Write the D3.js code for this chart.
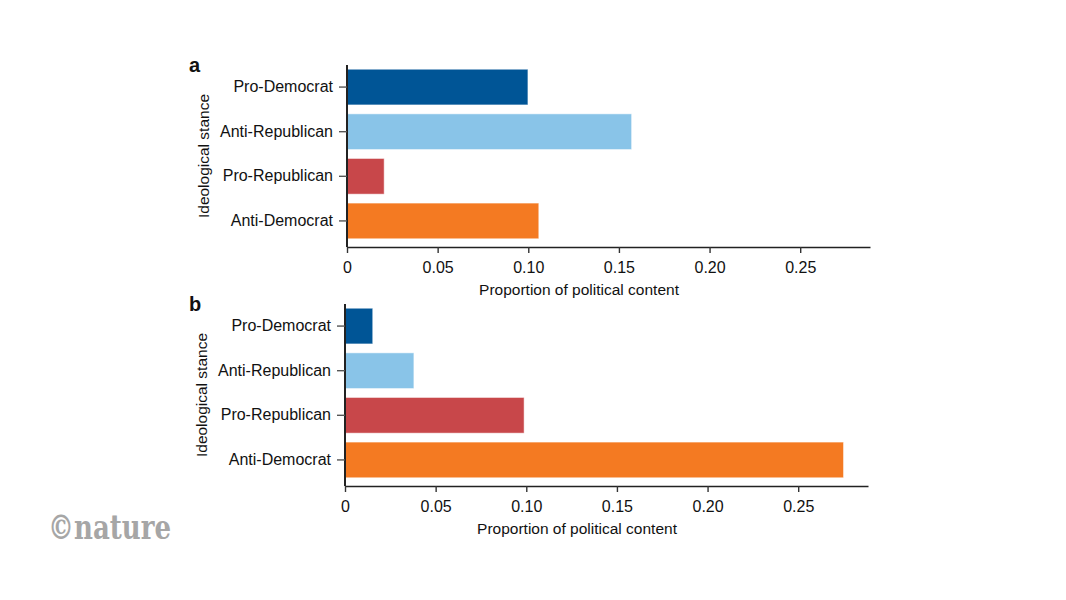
<!DOCTYPE html>
<html>
<head>
<meta charset="utf-8">
<script src="https://cdn.jsdelivr.net/npm/d3@7"></script>
<style>
  body { margin: 0; background: #fff; }
  text { font-family: "Liberation Sans", Arial, sans-serif; fill: #111; }
</style>
</head>
<body>
<div id="vis"></div>
<script>
let W = 1066;
let H = 600;

// Data
let stances = ['Pro-Democrat', 'Anti-Republican', 'Pro-Republican', 'Anti-Democrat'];
let colors = ['#005596', '#89c4e8', '#c8474a', '#f47a22'];
let valuesA = [0.0998, 0.157, 0.0205, 0.1058];
let valuesB = [0.0153, 0.038, 0.0988, 0.275];
let ticks = [0, 0.05, 0.10, 0.15, 0.20, 0.25];
let tickLabels = ['0', '0.05', '0.10', '0.15', '0.20', '0.25'];

let svg = d3.select('#vis').append('svg').attr('width', W).attr('height', H);

// Draw one panel
function panel(label, values, left, top, bottom) {
	let g = svg.append('g');
	let x = d3.scaleLinear().domain([0, 0.2885]).range([left, left + 523]);
	let y = d3.scaleBand().domain(stances).range([top + 2, bottom - 6]).paddingInner(0.2).paddingOuter(0.05);

	g.selectAll('rect').data(stances).enter().append('rect')
		.attr('x', x(0))
		.attr('y', d => y(d))
		.attr('width', (d, i) => x(values[i]) - x(0))
		.attr('height', y.bandwidth())
		.attr('fill', (d, i) => colors[i])
		.attr('stroke', '#fff')
		.attr('stroke-opacity', 0.5)
		.attr('stroke-width', 1);

	let xAxis = d3.axisBottom(x).tickValues(ticks).tickFormat((d, i) => tickLabels[i]).tickSize(6).tickSizeOuter(0);
	let gx = g.append('g').attr('transform', `translate(0,${bottom})`).call(xAxis);
	gx.select('.domain').attr('stroke', '#222').attr('stroke-width', 1.6);
	gx.selectAll('.tick line').attr('stroke', '#333').attr('stroke-width', 1.4);
	gx.selectAll('.tick text').attr('font-size', 16).attr('dy', '1.05em').style('font-family', '"Liberation Sans", Arial, sans-serif').attr('fill', '#111');

	let yAxis = d3.axisLeft(y).tickSize(8).tickSizeOuter(0).tickPadding(6);
	let gy = g.append('g').attr('transform', `translate(${left},0)`).call(yAxis);
	gy.select('.domain').attr('stroke', '#222').attr('stroke-width', 2).attr('d', `M0,${top}V${bottom}`);
	gy.selectAll('.tick line').attr('stroke', '#555').attr('stroke-width', 1.4);
	gy.selectAll('.tick text').attr('font-size', 16).style('font-family', '"Liberation Sans", Arial, sans-serif').attr('fill', '#111');

	g.append('text')
		.attr('x', left + 232)
		.attr('y', bottom + 48)
		.attr('text-anchor', 'middle')
		.attr('font-size', 15.5)
		.text('Proportion of political content');

	g.append('text')
		.attr('transform', `translate(${left - 138},${(top + bottom) / 2}) rotate(-90)`)
		.attr('text-anchor', 'middle')
		.attr('font-size', 15.5)
		.text('Ideological stance');

	g.append('text')
		.attr('x', 189)
		.attr('y', top + 7)
		.attr('font-size', 20)
		.attr('font-weight', 'bold')
		.text(label);
}

panel('a', valuesA, 347, 65, 247);
panel('b', valuesB, 345, 304, 486);

// Publisher mark
svg.append('text')
	.attr('x', 48)
	.attr('y', 539)
	.attr('font-size', 33)
	.attr('font-weight', 'bold')
	.style('font-family', '"DejaVu Serif", "Liberation Serif", serif')
	.style('fill', '#a6a6a6')
	.attr('textLength', 123)
	.attr('lengthAdjust', 'spacingAndGlyphs')
	.text('©nature');
</script>
</body>
</html>
